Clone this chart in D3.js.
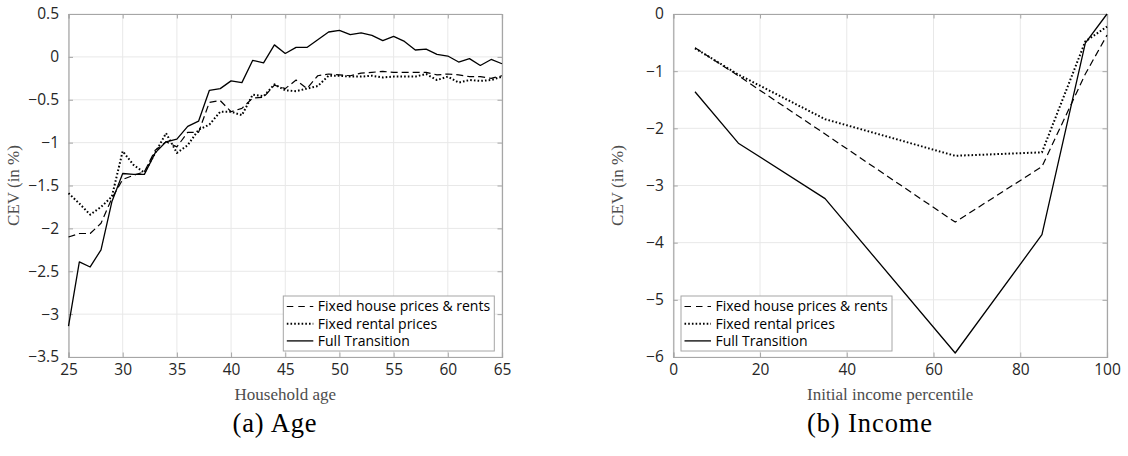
<!DOCTYPE html>
<html>
<head>
<meta charset="utf-8">
<script src="https://cdn.jsdelivr.net/npm/d3@7"></script>
<style>
  html, body { margin: 0; padding: 0; background: #fff; }
  svg { display: block; }
</style>
</head>
<body>
<svg id="chart" width="1128" height="456"></svg>
<script>
// ---- Panel (a): CEV by household age ----
const ages = d3.range(25, 66);
const ageFixedBoth = [
  -2.10, -2.06, -2.06, -1.94, -1.65, -1.43, -1.38, -1.34, -1.09, -0.99,
  -1.05, -0.88, -0.88, -0.53, -0.51, -0.64, -0.60, -0.48, -0.47, -0.33,
  -0.37, -0.27, -0.37, -0.22, -0.20, -0.21, -0.22, -0.19, -0.18, -0.17,
  -0.18, -0.18, -0.18, -0.18, -0.21, -0.20, -0.21, -0.23, -0.23, -0.25,
  -0.22
];
const ageFixedRent = [
  -1.59, -1.71, -1.84, -1.75, -1.63, -1.10, -1.26, -1.35, -1.12, -0.89,
  -1.12, -1.03, -0.85, -0.79, -0.64, -0.64, -0.68, -0.44, -0.46, -0.32,
  -0.39, -0.40, -0.37, -0.34, -0.22, -0.22, -0.23, -0.23, -0.22, -0.24,
  -0.23, -0.23, -0.23, -0.20, -0.27, -0.23, -0.30, -0.27, -0.28, -0.27,
  -0.23
];
const ageFull = [
  -3.14, -2.39, -2.45, -2.25, -1.69, -1.36, -1.37, -1.37, -1.12, -0.99,
  -0.96, -0.81, -0.75, -0.39, -0.37, -0.28, -0.30, -0.04, -0.07, 0.14,
  0.04, 0.11, 0.11, 0.20, 0.29, 0.31, 0.26, 0.28, 0.25, 0.19,
  0.24, 0.18, 0.08, 0.09, 0.03, 0.01, -0.06, -0.02, -0.10, -0.03,
  -0.08
];
const ageXTicks = [25, 30, 35, 40, 45, 50, 55, 60, 65];
const ageYTicks = [0.5, 0, -0.5, -1, -1.5, -2, -2.5, -3, -3.5];

// ---- Panel (b): CEV by initial income percentile ----
const pctl = [5, 15, 35, 65, 85, 95, 100];
const incFixedBoth = [-0.59, -1.08, -2.10, -3.64, -2.67, -1.05, -0.37];
const incFixedRent = [-0.60, -1.06, -1.84, -2.48, -2.42, -0.48, -0.22];
const incFull      = [-1.36, -2.26, -3.23, -5.93, -3.86, -0.51, 0.00];
const incXTicks = [0, 20, 40, 60, 80, 100];
const incYTicks = [0, -1, -2, -3, -4, -5, -6];

const seriesNames = ["Fixed house prices & rents", "Fixed rental prices", "Full Transition"];
const seriesStyles = [
  { dash: "7,4", width: 1.2 },
  { dash: "1.6,2.1", width: 2.0 },
  { dash: null, width: 1.3 }
];

const svg = d3.select("#chart");
const fmt = v => (v < 0 ? "\u2212" : "") + String(Math.abs(v));
const sansFont = "'Open Sans', 'DejaVu Sans', sans-serif";
const serifFont = "'Liberation Serif', serif";

function panel(cfg) {
  const g = svg.append("g");
  const x = d3.scaleLinear().domain(cfg.xDomain).range([cfg.left, cfg.right]);
  const y = d3.scaleLinear().domain(cfg.yDomain).range([cfg.bottom, cfg.top]);

  // grid
  g.append("g").selectAll("line").data(cfg.xTicks).join("line")
    .attr("x1", d => x(d)).attr("x2", d => x(d))
    .attr("y1", cfg.top).attr("y2", cfg.bottom)
    .attr("stroke", "#e8e8e8").attr("stroke-width", 1);
  g.append("g").selectAll("line").data(cfg.yTicks).join("line")
    .attr("y1", d => y(d)).attr("y2", d => y(d))
    .attr("x1", cfg.left).attr("x2", cfg.right)
    .attr("stroke", "#e8e8e8").attr("stroke-width", 1);

  // axes: ticks pointing inward on all four sides
  const tl = 4.5;
  const axB = g.append("g").attr("transform", `translate(0,${cfg.bottom})`)
    .call(d3.axisBottom(x).tickValues(cfg.xTicks).tickSize(-tl).tickPadding(tl + 5).tickFormat(fmt));
  const axT = g.append("g").attr("transform", `translate(0,${cfg.top})`)
    .call(d3.axisTop(x).tickValues(cfg.xTicks).tickSize(-tl).tickFormat(""));
  const axL = g.append("g").attr("transform", `translate(${cfg.left},0)`)
    .call(d3.axisLeft(y).tickValues(cfg.yTicks).tickSize(-tl).tickPadding(tl + 5).tickFormat(fmt));
  const axR = g.append("g").attr("transform", `translate(${cfg.right},0)`)
    .call(d3.axisRight(y).tickValues(cfg.yTicks).tickSize(-tl).tickFormat(""));
  [axB, axT, axL, axR].forEach(a => {
    a.select(".domain").attr("stroke", "#a6a6a6").attr("stroke-width", 1.2);
    a.selectAll(".tick line").attr("stroke", "#a6a6a6");
    a.selectAll("text").attr("fill", "#262626")
      .style("font-family", sansFont).style("font-size", "15.5px");
  });
  axB.selectAll("text").attr("dy", "0.55em");

  // series
  const line = d3.line().x(d => x(d[0])).y(d => y(d[1]));
  cfg.series.forEach((vals, i) => {
    const st = seriesStyles[i];
    g.append("path")
      .datum(cfg.xs.map((xv, k) => [xv, vals[k]]))
      .attr("d", line)
      .attr("fill", "none").attr("stroke", "#000")
      .attr("stroke-width", st.width)
      .attr("stroke-linejoin", "round")
      .attr("stroke-dasharray", st.dash);
  });

  // axis titles
  g.append("text")
    .attr("x", (cfg.left + cfg.right) / 2).attr("y", cfg.bottom + 43)
    .attr("text-anchor", "middle").attr("fill", "#4d4d4d")
    .style("font-family", serifFont).style("font-size", "17px")
    .text(cfg.xLabel);
  g.append("text")
    .attr("transform", `translate(${cfg.left - 50},${(cfg.top + cfg.bottom) / 2}) rotate(-90)`)
    .attr("text-anchor", "middle").attr("fill", "#4d4d4d")
    .style("font-family", serifFont).style("font-size", "17px")
    .text("CEV (in %)");

  // legend
  const lg = g.append("g").attr("transform", `translate(${cfg.legendX},${cfg.legendY})`);
  lg.append("rect").attr("width", 211).attr("height", 55)
    .attr("fill", "#fff").attr("stroke", "#a6a6a6").attr("stroke-width", 1);
  seriesNames.forEach((name, i) => {
    const yy = 10.5 + i * 17.2;
    const st = seriesStyles[i];
    lg.append("line").attr("x1", 3.5).attr("x2", 30).attr("y1", yy).attr("y2", yy)
      .attr("stroke", "#000").attr("stroke-width", st.width)
      .attr("stroke-dasharray", i === 0 ? "6.5,5" : st.dash);
    lg.append("text").attr("x", 34.5).attr("y", yy).attr("dy", "0.35em")
      .attr("fill", "#000")
      .style("font-family", sansFont).style("font-size", "14px")
      .text(name);
  });

  // caption
  g.append("text")
    .attr("x", cfg.captionX).attr("y", 432)
    .attr("text-anchor", "middle").attr("fill", "#000")
    .style("font-family", serifFont).style("font-size", "26.5px")
    .style("letter-spacing", "0.9px")
    .text(cfg.caption);
}

panel({
  left: 68.5, right: 502, top: 14, bottom: 357,
  xDomain: [25, 65], yDomain: [-3.5, 0.5],
  xTicks: ageXTicks, yTicks: ageYTicks,
  xs: ages, series: [ageFixedBoth, ageFixedRent, ageFull],
  xLabel: "Household age",
  legendX: 283.3, legendY: 296,
  caption: "(a) Age", captionX: 275
});

panel({
  left: 673.3, right: 1107, top: 14, bottom: 357,
  xDomain: [0, 100], yDomain: [-6, 0],
  xTicks: incXTicks, yTicks: incYTicks,
  xs: pctl, series: [incFixedBoth, incFixedRent, incFull],
  xLabel: "Initial income percentile",
  legendX: 681, legendY: 296,
  caption: "(b) Income", captionX: 870
});
</script>
</body>
</html>
